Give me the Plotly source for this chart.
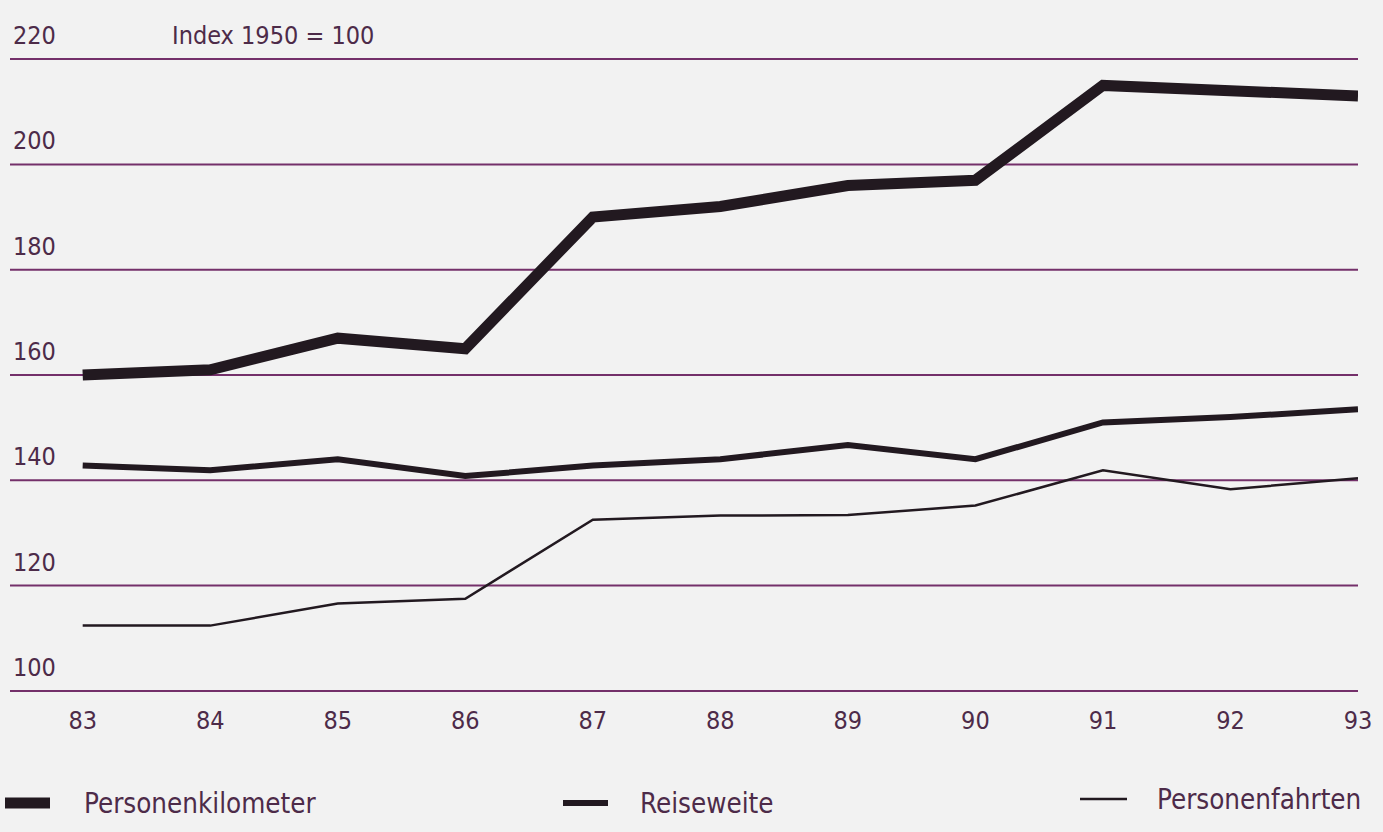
import plotly.graph_objects as go

years = [83, 84, 85, 86, 87, 88, 89, 90, 91, 92, 93]
year_labels = ["83", "84", "85", "86", "87", "88", "89", "90", "91", "92", "93"]
personenkilometer = [160.0, 161.0, 167.0, 165.0, 190.0, 192.0, 196.0, 197.0, 215.0, 214.0, 213.0]
reiseweite = [142.8, 141.9, 144.0, 140.8, 142.8, 144.0, 146.7, 144.0, 151.0, 152.0, 153.5]
personenfahrten = [112.4, 112.4, 116.6, 117.5, 132.5, 133.3, 133.4, 135.2, 141.9, 138.3, 140.4]
y_ticks = [100, 120, 140, 160, 180, 200, 220]

series_names = ["Personenkilometer", "Reiseweite", "Personenfahrten"]
series_values = [personenkilometer, reiseweite, personenfahrten]
series_widths = [11, 6, 2.5]

LINE = "#221920"
GRID = "#74306a"
TXT = "#4d2b49"
FONT = "DejaVu Sans Condensed, Liberation Sans Narrow, DejaVu Sans, sans-serif"
BG = "#f2f2f2"

W, H = 1383, 832
ML, MR, MT, MB = 10, 25, 57, 139
PW = W - ML - MR
PH = H - MT - MB

fig = go.Figure()
for name, vals, w in zip(series_names, series_values, series_widths):
    fig.add_trace(go.Scatter(
        x=years, y=vals, mode="lines", name=name,
        line=dict(color=LINE, width=w, shape="linear"),
        showlegend=False, hoverinfo="x+y+name",
    ))

shapes = []
annotations = []
for t in y_ticks:
    shapes.append(dict(type="line", xref="paper", yref="y", x0=0, x1=1, y0=t, y1=t,
                       line=dict(color=GRID, width=2), layer="below"))
    annotations.append(dict(xref="paper", yref="y", x=0, y=t, text=str(t),
                            showarrow=False, xanchor="left", yanchor="bottom",
                            xshift=1, yshift=7,
                            font=dict(family=FONT, size=25, color=TXT)))

annotations.append(dict(xref="paper", yref="y", x=0, y=220, text="Index 1950 = 100",
                        showarrow=False, xanchor="left", yanchor="bottom",
                        xshift=160, yshift=7,
                        font=dict(family=FONT, size=25, color=TXT)))

# manual legend (pixel positions converted to paper coords)
def px_x(p):
    return (p - ML) / PW

def px_y(p):
    return (H - MB - p) / PH

legend_items = [((5, 50), 82, 803), ((563, 608), 638, 803), ((1080, 1127), 1155, 799)]
for ((s0, s1), tx, ly), name, w in zip(legend_items, series_names, series_widths):
    shapes.append(dict(type="line", xref="paper", yref="paper",
                       x0=px_x(s0), x1=px_x(s1), y0=px_y(ly), y1=px_y(ly),
                       line=dict(color=LINE, width=w)))
    annotations.append(dict(xref="paper", yref="paper", x=px_x(tx), y=px_y(ly),
                            text=name, showarrow=False, xanchor="left", yanchor="middle",
                            font=dict(family=FONT, size=27.5, color=TXT)))

fig.update_layout(
    width=W, height=H,
    paper_bgcolor=BG, plot_bgcolor=BG,
    margin=dict(l=ML, r=MR, t=MT, b=MB),
    xaxis=dict(range=[82.43, 93.0], tickvals=years, ticktext=year_labels,
               showgrid=False, zeroline=False, showline=False, ticks="",
               ticklabelstandoff=10,
               tickfont=dict(family=FONT, size=25, color=TXT)),
    yaxis=dict(range=[99.6, 220.4], showgrid=False, zeroline=False, showline=False,
               showticklabels=False),
    shapes=shapes, annotations=annotations,
    showlegend=False,
)

fig.write_html("out.html", config={"displayModeBar": False},
               post_script="document.body.style.margin='0';document.body.style.background='#f2f2f2';")
